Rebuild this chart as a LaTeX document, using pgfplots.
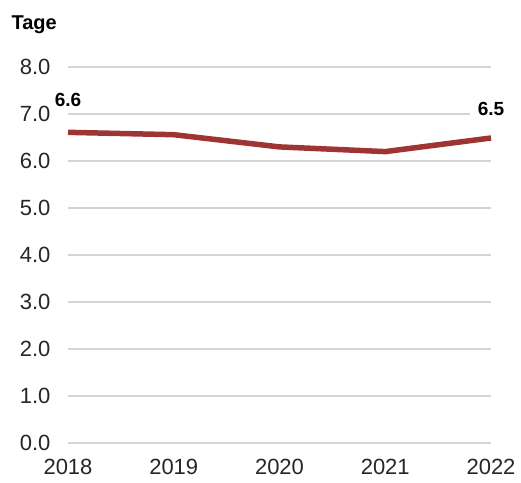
\documentclass[border=0pt]{standalone}
\usepackage{pgfplots}
\pgfplotsset{compat=1.18}
\usepackage{fontspec}
\setmainfont{Liberation Sans}
\definecolor{linered}{HTML}{9E3434}
\definecolor{gridgrey}{HTML}{D4D4D4}
\definecolor{ticktext}{HTML}{262626}
\begin{document}
\begin{tikzpicture}
\useasboundingbox (-68pt,-39pt) rectangle (453pt,443pt);
\begin{axis}[
  scale only axis,
  width=423pt, height=376pt,
  xmin=0, xmax=4, ymin=0, ymax=8,
  axis line style={draw=none},
  xtick={0,1,2,3,4},
  xticklabels={2018,2019,2020,2021,2022},
  ytick={0,1,...,8},
  yticklabel={\pgfmathprintnumber[fixed,fixed zerofill,precision=1]{\tick}},
  /pgf/number format/assume math mode=true,
  major tick length=0pt,
  ymajorgrids,
  grid style={gridgrey, line width=1.5pt},
  tick label style={font=\fontsize{22}{26}\selectfont, text=ticktext},
  yticklabel style={xshift=-14pt},
  xticklabel style={yshift=-13pt},
  clip=false,
]
\addplot[linered, line width=5.5pt, line join=round] coordinates {
  (0,6.61) (1,6.56) (2,6.30) (3,6.20) (4,6.49)
};
\node[fill=white, inner xsep=4pt, inner ysep=2pt, font=\bfseries\fontsize{19}{22}\selectfont] at (axis cs:0,6.61) [yshift=32pt] {6.6};
\node[fill=white, inner xsep=8pt, inner ysep=2pt, font=\bfseries\fontsize{19}{22}\selectfont] at (axis cs:4,6.49) [yshift=29pt] {6.5};
\end{axis}
\node[anchor=west, font=\bfseries\fontsize{20}{24}\selectfont] at (-60pt,418pt) {Tage};
\end{tikzpicture}
\end{document}
